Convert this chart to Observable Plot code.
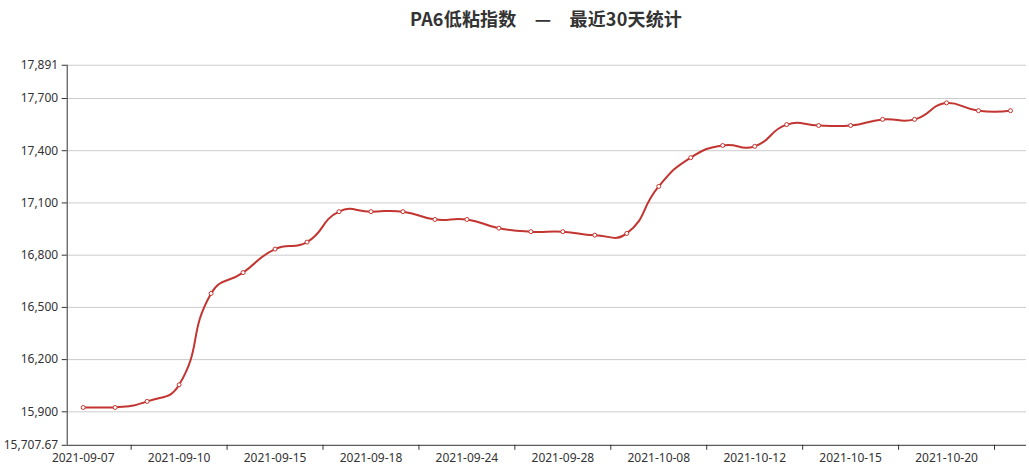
<!DOCTYPE html>
<html>
<head>
<meta charset="utf-8">
<script src="https://cdn.jsdelivr.net/npm/d3@7"></script>
<script src="https://cdn.jsdelivr.net/npm/@observablehq/plot@0.6"></script>
<style>
  body { margin: 0; background: #fff; }
  #wrap { position: relative; width: 1029px; height: 475px; }
  #title {
    position: absolute; left: 546px; top: 9px; transform: translateX(-50%);
    white-space: pre; font: bold 18px/18px "Noto Sans CJK SC", sans-serif; color: #333;
    letter-spacing: 0.2px;
  }
  #chart { position: absolute; left: 0; top: 0; }
</style>
</head>
<body>
<div id="wrap">
  <div id="chart"></div>
  <div id="title">PA6低粘指数　—　最近30天统计</div>
</div>
<script>
const dates = [
  "2021-09-07","2021-09-08","2021-09-09","2021-09-10","2021-09-13","2021-09-14",
  "2021-09-15","2021-09-16","2021-09-17","2021-09-18","2021-09-22","2021-09-23",
  "2021-09-24","2021-09-26","2021-09-27","2021-09-28","2021-09-29","2021-09-30",
  "2021-10-08","2021-10-09","2021-10-11","2021-10-12","2021-10-13","2021-10-14",
  "2021-10-15","2021-10-18","2021-10-19","2021-10-20","2021-10-21","2021-10-22"
];
const values = [
  15925, 15925, 15960, 16055, 16580, 16700,
  16835, 16875, 17050, 17050, 17050, 17005,
  17005, 16955, 16935, 16935, 16915, 16925,
  17195, 17360, 17430, 17425, 17550, 17545,
  17545, 17580, 17580, 17675, 17630, 17630
];
const yMin = 15707.67;
const yMax = 17891;
const yTicks = [15707.67, 15900, 16200, 16500, 16800, 17100, 17400, 17700, 17891];
const labelEvery = 3;

// Smooth curve in the style of a constrained cubic Bézier (smooth = 0.5)
function smoothCurve(context) {
  const pts = [];
  const s = 0.5;
  return {
    areaStart() {}, areaEnd() {},
    lineStart() { pts.length = 0; },
    point(x, y) { pts.push([+x, +y]); },
    lineEnd() {
      const n = pts.length;
      if (!n) return;
      let minX = Infinity, minY = Infinity, maxX = -Infinity, maxY = -Infinity;
      for (const [x, y] of pts) {
        if (x < minX) minX = x; if (x > maxX) maxX = x;
        if (y < minY) minY = y; if (y > maxY) maxY = y;
      }
      const clamp = p => [Math.min(maxX, Math.max(minX, p[0])), Math.min(maxY, Math.max(minY, p[1]))];
      context.moveTo(pts[0][0], pts[0][1]);
      let cp0 = pts[0].slice();
      for (let i = 1; i < n; i++) {
        const p = pts[i], prev = pts[i - 1], next = pts[i + 1];
        let cp1, v = [0, 0], ratio = 0.5;
        if (!next) {
          cp1 = p.slice();
        } else {
          v = [next[0] - prev[0], next[1] - prev[1]];
          const dPrev = Math.hypot(p[0] - prev[0], p[1] - prev[1]);
          const dNext = Math.hypot(next[0] - p[0], next[1] - p[1]);
          ratio = (dNext + dPrev) ? dNext / (dNext + dPrev) : 0.5;
          cp1 = [p[0] - s * (1 - ratio) * v[0], p[1] - s * (1 - ratio) * v[1]];
        }
        const a = clamp(cp0), b = clamp(cp1);
        context.bezierCurveTo(a[0], a[1], b[0], b[1], p[0], p[1]);
        cp0 = [p[0] + s * ratio * v[0], p[1] + s * ratio * v[1]];
      }
    }
  };
}

const table = dates.map((d, i) => ({i, date: d, value: values[i]}));
const labelIdx = dates.map((d, i) => i).filter(i => i % labelEvery === 0);
const tickPos = labelIdx.map(i => i + 1.5).filter(v => v < dates.length - 0.5);

const chart = Plot.plot({
  width: 1029,
  height: 475,
  marginTop: 64.75,
  marginBottom: 30.2,
  marginLeft: 66.7,
  marginRight: 3,
  style: { fontFamily: "'Noto Sans', sans-serif", fontSize: "12px", color: "#333", background: "white" },
  x: { type: "linear", domain: [-0.5, dates.length - 0.5] },
  y: { domain: [yMin, yMax] },
  marks: [
    Plot.gridY(yTicks.slice(1), { stroke: "#ccc", strokeOpacity: 1 }),
    Plot.axisY(yTicks, { tickSize: 5, tickPadding: 4, tickFormat: d3.format(","), label: null }),
    Plot.axisX(tickPos, { tickSize: 5, tickFormat: () => "", label: null }),
    Plot.axisX(labelIdx, { tickSize: 0, tickPadding: 8, tickFormat: i => dates[i], label: null }),
    Plot.ruleX([-0.5], { stroke: "#333" }),
    Plot.ruleY([yMin], { stroke: "#333" }),
    Plot.line(table, { x: "i", y: "value", curve: smoothCurve, stroke: "#c23531", strokeWidth: 2 }),
    Plot.dot(table, { x: "i", y: "value", r: 2, fill: "white", stroke: "#c23531", strokeWidth: 1 })
  ]
});
document.getElementById("chart").appendChild(chart);
</script>
</body>
</html>
